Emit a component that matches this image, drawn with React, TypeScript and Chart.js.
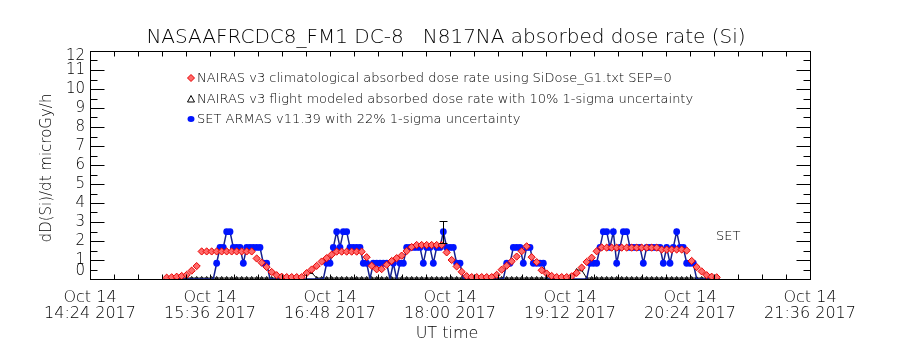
import React, { useEffect, useRef } from "react";
import { Chart, registerables } from "chart.js";

Chart.register(...registerables);

// ---------------- text ----------------
const TITLE = "NASAAFRCDC8_FM1 DC-8   N817NA absorbed dose rate (Si)";
const Y_TITLE = "dD(Si)/dt microGy/h";
const X_TITLE = "UT time";
const LEGEND_LABELS = [
  "NAIRAS v3 climatological absorbed dose rate using SiDose_G1.txt SEP=0",
  "NAIRAS v3 flight modeled absorbed dose rate with 10% 1-sigma uncertainty",
  "SET ARMAS v11.39 with 22% 1-sigma uncertainty",
];
const SET_LABEL = "SET";
const DATE_LABEL = "Oct 14";
const YEAR_LABEL = "2017";

// ---------------- axes ----------------
const X_START = "14:24";
const X_END = "21:36";
const X_LABEL_STEP_MIN = 72;
const X_MINOR_STEP_MIN = 14.4;
const Y_MIN = 0;
const Y_MAX = 12;
const Y_TICK_LABELS = ["0", "1", "2", "3", "4", "5", "6", "7", "8", "9", "10", "11", "12"];

// ---------------- data ----------------
// NAIRAS v3 climatological (sampled every 3 min from 15:10 UT)
const CLIM_START = "15:10";
const CLIM_STEP_MIN = 3;
const climValues = [
  0.07, 0.09, 0.12, 0.16, 0.22, 0.44, 0.68, 1.45, 1.45, 1.45,
  1.45, 1.45, 1.45, 1.45, 1.45, 1.45, 1.45, 1.45, 1.08, 0.86,
  0.63, 0.37, 0.2, 0.12, 0.1, 0.1, 0.1, 0.1, 0.31, 0.5,
  0.69, 0.92, 1.1, 1.28, 1.44, 1.44, 1.44, 1.44, 1.44, 1.44,
  1.15, 0.7, 0.51, 0.52, 0.75, 0.95, 1.1, 1.23, 1.47, 1.68,
  1.79, 1.79, 1.79, 1.79, 1.79, 1.79, 1.4, 1.0, 0.66, 0.38,
  0.15, 0.1, 0.1, 0.1, 0.1, 0.1, 0.22, 0.49, 0.7, 0.93,
  1.18, 1.46, 1.72, 1.15, 0.89, 0.46, 0.29, 0.16, 0.1, 0.1,
  0.1, 0.14, 0.32, 0.6, 0.9, 1.12, 1.46, 1.66, 1.65, 1.65,
  1.65, 1.65, 1.65, 1.65, 1.65, 1.65, 1.65, 1.65, 1.65, 1.55,
  1.55, 1.55, 1.55, 1.55, 1.5, 0.95, 0.63, 0.4, 0.2, 0.12,
  0.09,
];

// NAIRAS v3 flight modeled (same 3 min sampling)
const flightValues = [
  0.05, 0.05, 0.05, 0.05, 0.05, 0.05, 0.05, 0.05, 0.05, 0.05,
  0.05, 0.05, 0.05, 0.05, 0.05, 0.05, 0.05, 0.05, 0.05, 0.05,
  0.05, 0.05, 0.05, 0.05, 0.05, 0.05, 0.05, 0.05, 0.33, 0.33,
  0.05, 0.05, 0.05, 0.05, 0.05, 0.05, 0.05, 0.05, 0.05, 0.05,
  0.05, 0.05, 0.05, 0.05, 0.05, 0.05, 0.05, 0.05, 0.05, 0.05,
  0.05, 0.05, 0.05, 0.05, 0.05, 0.05, 0.05, 0.05, 0.05, 0.05,
  0.05, 0.05, 0.05, 0.05, 0.05, 0.05, 0.05, 0.05, 0.05, 0.05,
  0.05, 0.05, 0.05, 0.05, 0.05, 0.05, 0.05, 0.05, 0.05, 0.05,
  0.05, 0.05, 0.47, 0.47, 0.05, 0.05, 0.05, 0.05, 0.05, 0.05,
  0.05, 0.05, 0.05, 0.05, 0.05, 0.05, 0.05, 0.05, 0.05, 0.05,
  0.05, 0.05, 0.05, 0.05, 0.05, 0.05, 0.05, 0.05, 0.05, 0.05,
  0.05,
];

// SET ARMAS v11.39 (sampled every 2 min from 15:10 UT)
const SET_START = "15:10";
const SET_STEP_MIN = 2;
const setValues = [
  0, 0, 0, 0, 0, 0, 0, 0, 0, 0,
  0, 0, 0, 0, 0, 0.83, 1.66, 1.66, 2.49, 2.49,
  1.66, 1.66, 1.66, 0.83, 1.66, 1.66, 1.66, 1.66, 1.66, 0.83,
  0.83, 0, 0, 0, 0, 0, 0, 0, 0, 0,
  0, 0, 0, 0, 0, 0, 0, 0, 0.83, 0.83,
  1.66, 2.49, 1.66, 2.49, 2.49, 1.66, 1.66, 1.66, 1.66, 0.83,
  0.83, 0, 0.83, 0.83, 0.83, 0.83, 0.83, 0, 0.83, 0,
  0.83, 0.83, 1.66, 1.66, 1.66, 1.66, 1.66, 0.83, 1.66, 1.66,
  0.83, 1.66, 1.66, 2.49, 1.66, 1.66, 1.66, 0.83, 0.83, 0,
  0, 0, 0, 0, 0, 0, 0, 0, 0, 0,
  0, 0, 0.83, 0.83, 1.66, 1.66, 1.66, 0.83, 1.66, 1.66,
  0.83, 0.83, 0.83, 0.83, 0, 0, 0, 0, 0, 0,
  0, 0, 0, 0, 0, 0, 0, 0.83, 0.83, 0.83,
  1.66, 2.49, 2.49, 1.66, 2.49, 0.83, 1.66, 2.49, 2.49, 1.66,
  1.66, 1.66, 1.66, 0.83, 1.66, 1.66, 1.66, 1.66, 1.66, 0.83,
  1.66, 0.83, 1.66, 2.49, 1.66, 1.66, 0.83, 0.83, 0.83, 0,
  0, 0, 0, 0, 0, 0, 0,
];

// error bar drawn on the SET series
const errTimes = ["17:56"];
const errLow = [1.88];
const errHigh = [3.05];

// ---------------- helpers ----------------
const toMin = (s: string) => {
  const [h, m] = s.split(":").map(Number);
  return h * 60 + m;
};
const fmtMin = (v: number) => {
  const h = Math.floor(v / 60);
  const m = Math.round(v - h * 60);
  return `${String(h).padStart(2, "0")}:${String(m).padStart(2, "0")}`;
};

const FONT = '"DejaVu Sans", sans-serif';
const RED = "#e80000";
const RED_FILL = "#ff6a6a";
const BLUE = "#0014ff";
const NAVY = "#142090";

const idlPlugin = {
  id: "idlDecor",
  afterDatasetsDraw(chart: any) {
    const ctx = chart.ctx;
    const xs = chart.scales.x;
    const ys = chart.scales.y;
    ctx.save();
    ctx.strokeStyle = "#000";
    ctx.lineWidth = 1;
    errTimes.forEach((t, i) => {
      const px = Math.round(xs.getPixelForValue(toMin(t))) + 0.5;
      const y1 = Math.round(ys.getPixelForValue(errLow[i])) + 0.5;
      const y2 = Math.round(ys.getPixelForValue(errHigh[i])) + 0.5;
      ctx.beginPath();
      ctx.moveTo(px, y1);
      ctx.lineTo(px, y2);
      ctx.moveTo(px - 4, y1);
      ctx.lineTo(px + 4, y1);
      ctx.moveTo(px - 4, y2);
      ctx.lineTo(px + 4, y2);
      ctx.stroke();
    });
    ctx.restore();
  },
  afterDraw(chart: any) {
    const ctx = chart.ctx;
    const xs = chart.scales.x;
    const ys = chart.scales.y;
    const { left, right, top, bottom } = chart.chartArea;
    const L = Math.round(left) + 0.5;
    const R = Math.round(right) + 0.5;
    const T = Math.round(top) + 0.5;
    const B = Math.round(bottom) + 0.5;
    ctx.save();
    ctx.strokeStyle = "#000";
    ctx.lineWidth = 1;
    ctx.strokeRect(L, T, R - L, B - T);
    ctx.beginPath();
    // x ticks (inward, top & bottom)
    for (let t = toMin(X_START); t <= toMin(X_END) + 0.01; t += X_MINOR_STEP_MIN) {
      const px = Math.round(xs.getPixelForValue(t)) + 0.5;
      ctx.moveTo(px, B);
      ctx.lineTo(px, B - 5);
      ctx.moveTo(px, T);
      ctx.lineTo(px, T + 5);
    }
    // y ticks (inward, left & right)
    for (let v = Y_MIN; v <= Y_MAX + 0.001; v += 0.5) {
      const py = Math.round(ys.getPixelForValue(v)) + 0.5;
      const len = Number.isInteger(v) ? 14 : 7;
      ctx.moveTo(L, py);
      ctx.lineTo(L + len, py);
      ctx.moveTo(R, py);
      ctx.lineTo(R - len, py);
    }
    ctx.stroke();

    ctx.fillStyle = "#000";
    // y tick labels (IDL keeps end labels inside the axis range)
    ctx.font = `200 15px ${FONT}`;
    ctx.textAlign = "right";
    ctx.textBaseline = "middle";
    Y_TICK_LABELS.forEach((lab, i) => {
      let py = ys.getPixelForValue(i);
      if (i === 0) py -= 8;
      if (i === Y_TICK_LABELS.length - 1) py += 5;
      ctx.fillText(lab, 85, py);
    });

    // title
    ctx.font = `200 20px ${FONT}`;
    ctx.textAlign = "center";
    ctx.fillText(TITLE, 446, 38);

    // x title
    ctx.font = `200 16px ${FONT}`;
    ctx.fillText(X_TITLE, 447, 334);

    // y title
    ctx.save();
    ctx.translate(47, 168);
    ctx.rotate(-Math.PI / 2);
    ctx.font = `200 15px ${FONT}`;
    ctx.fillText(Y_TITLE, 0, 0);
    ctx.restore();

    // SET annotation
    ctx.font = `200 13px ${FONT}`;
    ctx.textAlign = "left";
    ctx.fillText(SET_LABEL, 716, 237);

    // legend
    const rows = [78, 99, 119];
    ctx.font = `200 13px ${FONT}`;
    ctx.textAlign = "left";
    LEGEND_LABELS.forEach((lab, i) => {
      const y = rows[i];
      const mx = 191;
      ctx.beginPath();
      if (i === 0) {
        ctx.moveTo(mx, y - 3.5);
        ctx.lineTo(mx + 3.5, y);
        ctx.lineTo(mx, y + 3.5);
        ctx.lineTo(mx - 3.5, y);
        ctx.closePath();
        ctx.fillStyle = RED_FILL;
        ctx.fill();
        ctx.strokeStyle = RED;
        ctx.stroke();
      } else if (i === 1) {
        ctx.moveTo(mx, y - 3.5);
        ctx.lineTo(mx + 3.5, y + 3);
        ctx.lineTo(mx - 3.5, y + 3);
        ctx.closePath();
        ctx.strokeStyle = "#000";
        ctx.stroke();
      } else {
        ctx.ellipse(mx, y, 3.5, 3, 0, 0, Math.PI * 2);
        ctx.fillStyle = BLUE;
        ctx.fill();
      }
      ctx.fillStyle = "#000";
      ctx.fillText(lab, 197, y + 1);
    });
    ctx.restore();
  },
};

export default function App() {
  const ref = useRef<HTMLCanvasElement | null>(null);

  useEffect(() => {
    if (!ref.current) return;
    const climStart = toMin(CLIM_START);
    const setStart = toMin(SET_START);
    const climData = climValues.map((v, i) => ({ x: climStart + i * CLIM_STEP_MIN, y: v }));
    const flightData = flightValues.map((v, i) => ({ x: climStart + i * CLIM_STEP_MIN, y: v }));
    const setData = setValues.map((v, i) => ({ x: setStart + i * SET_STEP_MIN, y: v }));

    const chart = new Chart(ref.current, {
      type: "scatter",
      data: {
        datasets: [
          {
            label: LEGEND_LABELS[0],
            data: climData,
            showLine: false,
            pointStyle: "rectRot",
            pointRadius: 3.6,
            pointBorderWidth: 1,
            borderColor: RED,
            backgroundColor: RED_FILL,
            clip: 0,
          },
          {
            label: LEGEND_LABELS[2],
            data: setData,
            showLine: true,
            borderColor: NAVY,
            borderWidth: 1.5,
            pointStyle: "circle",
            pointRadius: (c: any) => (c.raw && c.raw.y > 0 ? 3.4 : 0),
            pointBackgroundColor: BLUE,
            pointBorderColor: BLUE,
            pointBorderWidth: 0,
            clip: 0,
          },
          {
            label: LEGEND_LABELS[1],
            data: flightData,
            showLine: true,
            borderColor: "#000",
            borderWidth: 1,
            pointStyle: "triangle",
            pointRadius: 1.6,
            pointBorderWidth: 1,
            pointBorderColor: "#000",
            pointBackgroundColor: "rgba(0,0,0,0)",
            clip: 0,
          },
        ] as any,
      },
      options: {
        responsive: false,
        animation: false,
        events: [],
        layout: { padding: { left: 0, right: 90, top: 51, bottom: 0 } },
        plugins: {
          legend: { display: false },
          title: { display: false },
          tooltip: { enabled: false },
        },
        scales: {
          x: {
            type: "linear",
            min: toMin(X_START),
            max: toMin(X_END),
            afterFit: (s: any) => {
              s.height = 71;
            },
            grid: { display: false, drawTicks: false },
            border: { display: false },
            ticks: {
              stepSize: X_LABEL_STEP_MIN,
              autoSkip: false,
              maxRotation: 0,
              minRotation: 0,
              padding: 11,
              color: "#000",
              font: { family: FONT, size: 16, weight: "200" as any, lineHeight: 1.0 },
              callback: (v: any) => [DATE_LABEL, `${fmtMin(Number(v))} ${YEAR_LABEL}`],
            },
          },
          y: {
            type: "linear",
            min: Y_MIN,
            max: Y_MAX,
            afterFit: (s: any) => {
              s.width = 90;
            },
            grid: { display: false, drawTicks: false },
            border: { display: false },
            ticks: { display: false, stepSize: 1 },
          },
        },
      } as any,
      plugins: [idlPlugin],
    });
    return () => chart.destroy();
  }, []);

  return (
    <div style={{ position: "fixed", left: 0, top: 0, width: 900, height: 350, background: "#fff" }}>
      <canvas ref={ref} width={900} height={350} style={{ display: "block" }} />
    </div>
  );
}
